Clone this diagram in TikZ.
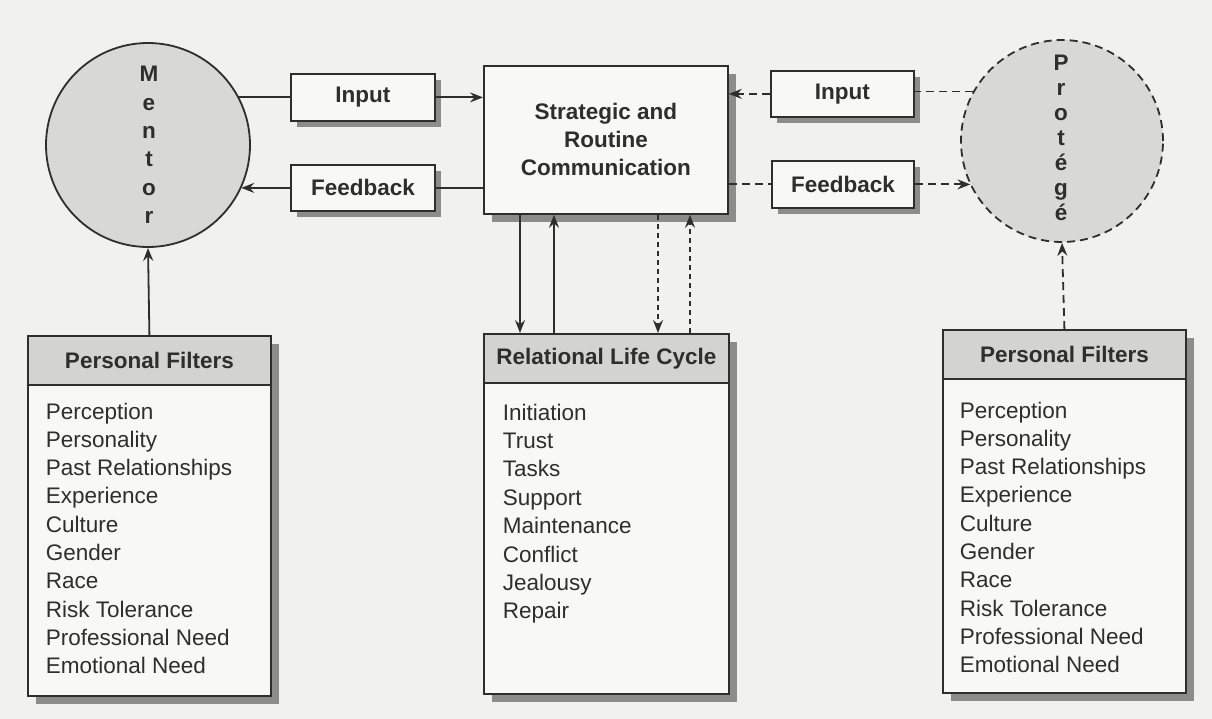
\documentclass[tikz,border=0pt]{standalone}
\usepackage{fontspec}
\setmainfont{Liberation Sans}
\usetikzlibrary{arrows.meta,shadows}
\definecolor{bg}{HTML}{F1F1EF}
\definecolor{ink}{HTML}{2E2E2E}
\definecolor{boxfill}{HTML}{F8F8F6}
\definecolor{hdr}{HTML}{D3D3D1}
\definecolor{circ}{HTML}{D8D8D6}
\definecolor{shad}{HTML}{8C8C8A}
\begin{document}
\begin{tikzpicture}[x=1pt,y=-1pt,
  line width=1.8pt,
  boxbase/.style={draw=ink, line width=1.8pt, fill=boxfill, inner sep=0pt, anchor=north west,
    text=ink, font=\bfseries\fontsize{22.5}{28}\selectfont, align=center},
  smallbox/.style={boxbase, general shadow={fill=shad, shadow xshift=6pt, shadow yshift=-6pt}},
  bigbox/.style={boxbase, general shadow={fill=shad, shadow xshift=8pt, shadow yshift=-8pt}},
  hdrbox/.style={boxbase, fill=hdr},
  item/.style={anchor=base west, inner sep=0pt, text=ink, font=\fontsize{22.5}{27}\selectfont},
  letters/.style={inner sep=0pt, text=ink, align=center},
  arr/.style={draw=ink, -{Stealth[length=13pt,width=10pt,inset=4.5pt]}},
  plain/.style={draw=ink},
  dsh/.style={dash pattern=on 8pt off 5pt},
  dot/.style={dash pattern=on 5pt off 4pt}
]
\useasboundingbox (0,0) rectangle (1212,719);
\fill[bg] (0,0) rectangle (1212,719);

% circles
\node[circle, draw=ink, fill=circ, minimum size=204pt, inner sep=0pt] (mentor) at (148,145) {};
\node[letters, font=\bfseries\fontsize{22.5}{28.4}\selectfont] (mentorT) at (149,145) {M\\e\\n\\t\\o\\r};
\node[circle, draw=ink, dsh, fill=circ, minimum size=202pt, inner sep=0pt] (protege) at (1062,141) {};
\node[letters, font=\bfseries\fontsize{22.5}{25}\selectfont] (protegeT) at (1061,138) {P\\r\\o\\t\\é\\g\\é};

% communication boxes
\node[bigbox, minimum width=244pt, minimum height=148pt] (comm) at (483,65) {Strategic and\\Routine\\Communication};
\node[smallbox, minimum width=144pt, minimum height=47pt] (inL) at (290,73) {Input};
\node[smallbox, minimum width=144pt, minimum height=46pt] (fbL) at (290,164) {Feedback};
\node[smallbox, minimum width=143pt, minimum height=46pt] (inR) at (770,70) {Input};
\node[smallbox, minimum width=142pt, minimum height=47pt] (fbR) at (771,160) {Feedback};

% filter / life cycle boxes
\node[bigbox, minimum width=243pt, minimum height=360pt] (filtL) at (27,335) {};
\node[hdrbox, minimum width=243pt, minimum height=49pt] (filtLh) at (27,335) {Personal Filters};
\node[bigbox, minimum width=245pt, minimum height=360pt] (life) at (483,333) {};
\node[hdrbox, minimum width=245pt, minimum height=49pt] (lifeh) at (483,333) {Relational Life Cycle};
\node[bigbox, minimum width=243pt, minimum height=363pt] (filtR) at (942,329) {};
\node[hdrbox, minimum width=243pt, minimum height=49pt] (filtRh) at (942,329) {Personal Filters};

\foreach \t [count=\i from 0] in {Perception,Personality,Past Relationships,Experience,Culture,Gender,Race,Risk Tolerance,Professional Need,Emotional Need}{
  \node[item] (fl\i) at (45,{419+28.33*\i}) {\t};
  \node[item] (fr\i) at (959,{418+28.33*\i}) {\t};
}
\foreach \t [count=\i from 0] in {Initiation,Trust,Tasks,Support,Maintenance,Conflict,Jealousy,Repair}{
  \node[item] (lc\i) at (502,{420+28.4*\i}) {\t};
}

% connectors, left
\draw[plain] (mentor.28) -- (mentor.28 -| inL.west);
\draw[arr] (inL.east) -- (inL.east -| comm.west);
\draw[plain] (fbL.east -| comm.west) -- (fbL.east);
\draw[arr] (fbL.west) -- (fbL.west -| mentor.-25);
\draw[arr] (filtL.north) -- (mentor.south);

% connectors, right
\draw[arr, dsh] (inR.west) -- (inR.west -| comm.east);
\draw[plain, dsh] (protege.151) -- (protege.151 -| inR.east);
\draw[plain, dsh] (fbR.west -| comm.east) -- (fbR.west);
\draw[arr, dsh] (fbR.east) -- (fbR.east -| protege.206);
\draw[arr, dsh] (filtR.north) -- (protege.south);

% vertical connectors
\coordinate (v1) at (520,0);
\coordinate (v2) at (554,0);
\coordinate (v3) at (658,0);
\coordinate (v4) at (690,0);
\draw[arr] (comm.south -| v1) -- (life.north -| v1);
\draw[arr] (life.north -| v2) -- (comm.south -| v2);
\draw[arr, dot] (comm.south -| v3) -- (life.north -| v3);
\draw[arr, dot] (life.north -| v4) -- (comm.south -| v4);
\end{tikzpicture}
\end{document}
